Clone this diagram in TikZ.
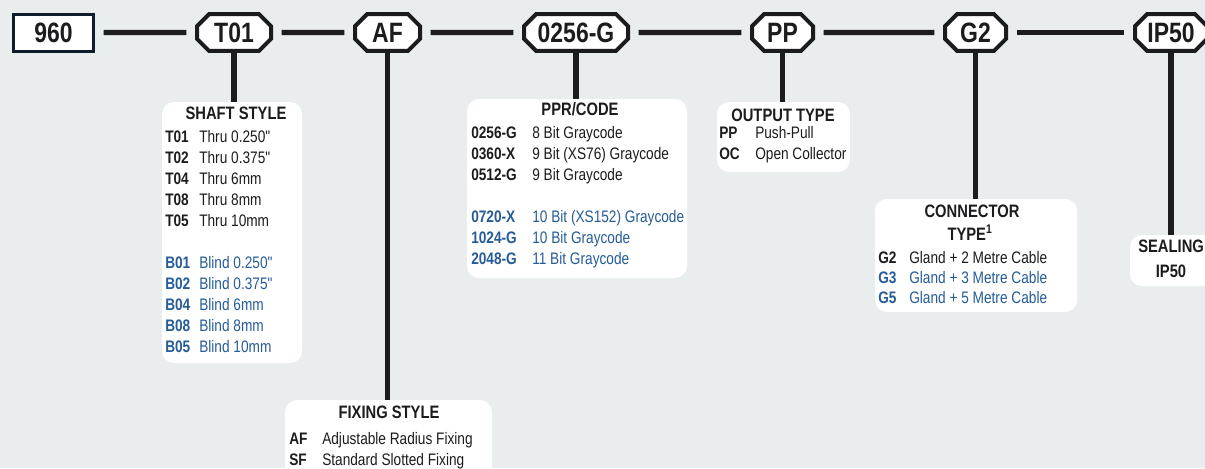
\documentclass[tikz,border=0pt]{standalone}
\usepackage{fontspec}
\setmainfont{Liberation Sans}[FakeStretch=0.82]
\usepackage{array}
\usetikzlibrary{positioning,shapes.misc,fit}
\definecolor{paper}{RGB}{233,237,238}
\definecolor{ink}{RGB}{28,28,30}
\definecolor{navy}{RGB}{14,28,44}
\definecolor{codeblue}{RGB}{38,92,152}
\newcommand\inblue[1]{\textcolor{codeblue}{#1}}
\newcommand\inch{\textquotedbl}
\tikzset{
  partno/.style={chamfered rectangle,chamfered rectangle xsep=4.5pt,chamfered rectangle ysep=4.5pt,
    draw=ink,line width=3pt,fill=white,minimum height=27.5pt,minimum width=#1,inner sep=0pt,
    font=\fontsize{21}{24}\selectfont\bfseries,text=ink},
  modelbox/.style={rectangle,draw=navy,line width=2.25pt,fill=white,minimum width=60pt,
    minimum height=27.75pt,inner sep=0pt,font=\fontsize{21}{24}\selectfont\bfseries,text=ink},
  link/.style={draw=ink,line width=4pt,shorten <=6.5pt,shorten >=6.5pt},
  drop/.style={draw=ink,line width=4pt},
  panel/.style={fill=white,rounded corners=9pt,inner sep=0pt},
  heading/.style={font=\fontsize{13.5}{15}\selectfont\bfseries,text=ink,inner sep=0pt,anchor=base},
  codes/.style={font=\fontsize{12.5}{15.8}\selectfont,text=ink,inner sep=0pt,anchor=base west},
}
\begin{document}
\begin{tikzpicture}[x=0.75pt,y=-0.75pt]
  \useasboundingbox (0,0) rectangle (1205,468);
  \clip (0,0) rectangle (1205,468);
  \fill[paper] (0,0) rectangle (1205,468);
  % part number fields
  \node[modelbox] (model) at (53.5,32.5) {960};
  \node[partno=55.5pt] (code-shaft) at (234,32.5) {T01};
  \node[partno=48.75pt] (code-fix) at (387.5,32.5) {AF};
  \node[partno=78pt] (code-ppr) at (576,32.5) {0256-G};
  \node[partno=45.75pt] (code-out) at (782.5,32.5) {PP};
  \node[partno=45.75pt] (code-conn) at (975.5,32.5) {G2};
  \node[partno=54pt] (code-seal) at (1171,32.5) {IP50};
  \draw[link] (model) -- (code-shaft);
  \draw[link] (code-shaft) -- (code-fix);
  \draw[link] (code-fix) -- (code-ppr);
  \draw[link] (code-ppr) -- (code-out);
  \draw[link] (code-out) -- (code-conn);
  \draw[link] (code-conn) -- (code-seal);
  % option panels
  \node[panel,fit={(162,102) (302,363)}] (shaft) {};
  \node[panel,fit={(285,400) (492,490)}] (fixing) {};
  \node[panel,fit={(467,99) (687,278)}] (ppr) {};
  \node[panel,fit={(717,102) (850,172)}] (output) {};
  \node[panel,fit={(875,199) (1077,312)}] (connector) {};
  \node[panel,fit={(1130,235) (1215,286)}] (sealing) {};
  \draw[drop] (code-shaft.south) -- (code-shaft.south |- shaft.north);
  \draw[drop] (code-fix.south) -- (code-fix.south |- fixing.north);
  \draw[drop] (code-ppr.south) -- (code-ppr.south |- ppr.north);
  \draw[drop] (code-out.south) -- (code-out.south |- output.north);
  \draw[drop] (code-conn.south) -- (code-conn.south |- connector.north);
  \draw[drop] (code-seal.south) -- (code-seal.south |- sealing.north);
  % shaft style
  \node[heading] (shaft-title) at (236,119) {SHAFT STYLE};
  \node[codes] (shaft-list) at (165,142) {\begin{tabular}[t]{@{}>{\bfseries}p{25.5pt}@{}l@{}}
    T01 & Thru 0.250\inch\\
    T02 & Thru 0.375\inch\\
    T04 & Thru 6mm\\
    T08 & Thru 8mm\\
    T05 & Thru 10mm\\
    \\
    \inblue{B01} & \inblue{Blind 0.250\inch}\\
    \inblue{B02} & \inblue{Blind 0.375\inch}\\
    \inblue{B04} & \inblue{Blind 6mm}\\
    \inblue{B08} & \inblue{Blind 8mm}\\
    \inblue{B05} & \inblue{Blind 10mm}
  \end{tabular}};
  % fixing style
  \node[heading] (fixing-title) at (389,418) {FIXING STYLE};
  \node[codes] (fixing-list) at (289,444) {\begin{tabular}[t]{@{}>{\bfseries}p{24.75pt}@{}l@{}}
    AF & Adjustable Radius Fixing\\
    SF & Standard Slotted Fixing
  \end{tabular}};
  % ppr / code
  \node[heading] (ppr-title) at (580,115) {PPR/CODE};
  \node[codes] (ppr-list) at (471,138) {\begin{tabular}[t]{@{}>{\bfseries}p{45.75pt}@{}l@{}}
    0256-G & 8 Bit Graycode\\
    0360-X & 9 Bit (XS76) Graycode\\
    0512-G & 9 Bit Graycode\\
    \\
    \inblue{0720-X} & \inblue{10 Bit (XS152) Graycode}\\
    \inblue{1024-G} & \inblue{10 Bit Graycode}\\
    \inblue{2048-G} & \inblue{11 Bit Graycode}
  \end{tabular}};
  % output type
  \node[heading] (output-title) at (783,121) {OUTPUT TYPE};
  \node[codes] (output-list) at (719,138) {\begin{tabular}[t]{@{}>{\bfseries}p{27pt}@{}l@{}}
    PP & Push-Pull\\
    OC & Open Collector
  \end{tabular}};
  % connector type
  \node[heading] (connector-title) at (972,217) {CONNECTOR};
  \node[heading] (connector-title2) at (970,240) {TYPE\textsuperscript{1}};
  \node[codes,font=\fontsize{12.5}{15}\selectfont] (connector-list) at (878,263) {\begin{tabular}[t]{@{}>{\bfseries}p{23.25pt}@{}l@{}}
    G2 & Gland + 2 Metre Cable\\
    \inblue{G3} & \inblue{Gland + 3 Metre Cable}\\
    \inblue{G5} & \inblue{Gland + 5 Metre Cable}
  \end{tabular}};
  % sealing
  \node[heading,anchor=base west] (sealing-title) at (1138,252) {SEALING};
  \node[heading] (sealing-code) at (1171,277) {IP50};
\end{tikzpicture}
\end{document}
